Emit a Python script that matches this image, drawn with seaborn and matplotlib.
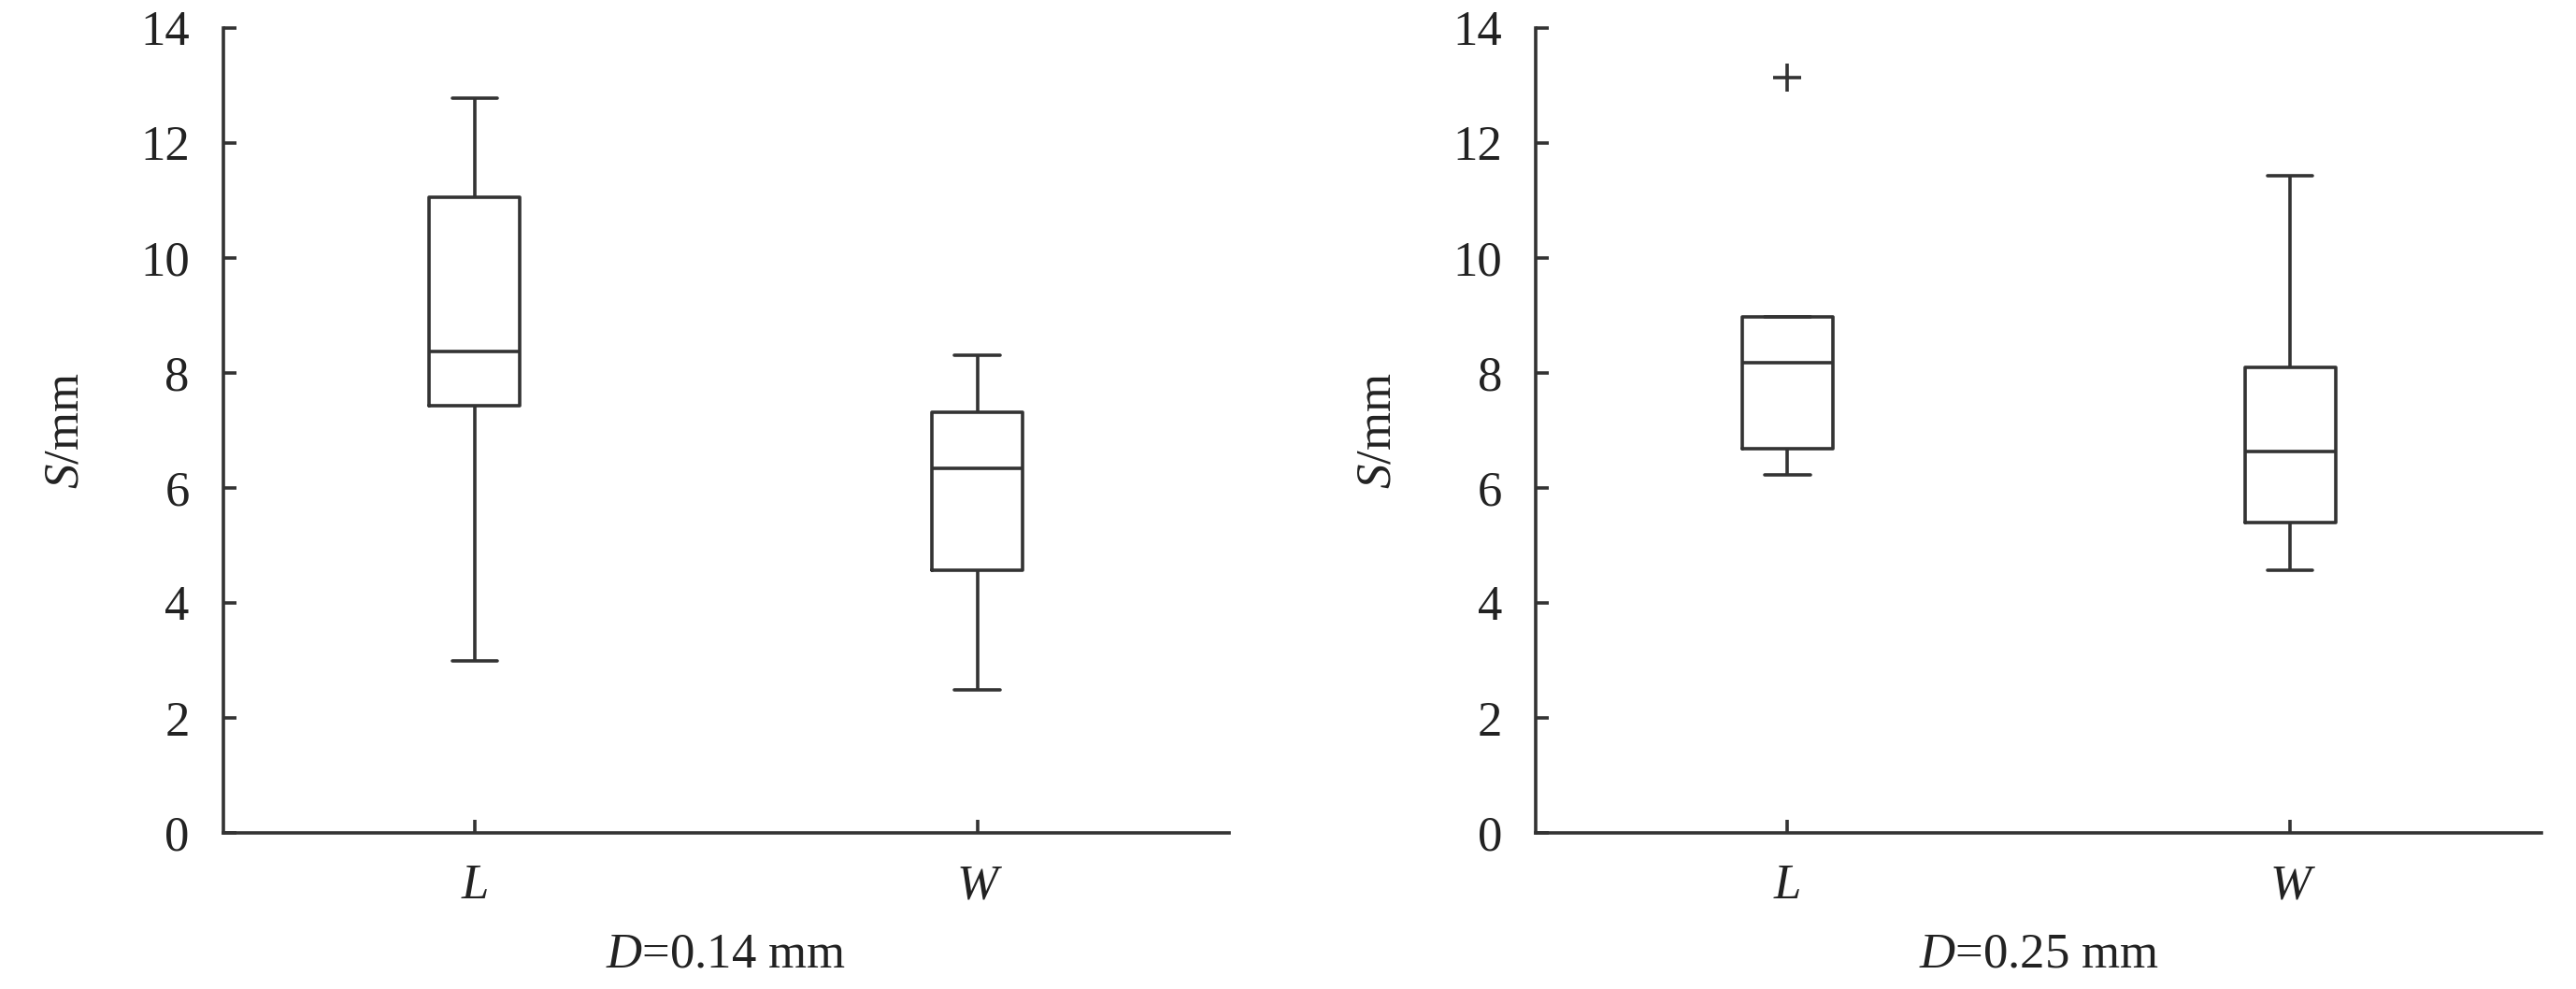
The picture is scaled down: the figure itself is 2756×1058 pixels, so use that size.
import matplotlib
matplotlib.use("Agg")
import matplotlib.pyplot as plt
import seaborn as sns
import pandas as pd

# Data (five-number sets; right-L includes one outlier)
left_L = [3.00, 7.43, 8.37, 11.06, 12.77]
left_W = [2.49, 4.57, 6.34, 7.31, 8.31]
right_L = [6.23, 6.69, 8.17, 8.97, 13.14]
right_W = [4.57, 5.40, 6.63, 8.09, 11.43]
categories = ["L", "W"]
panel_labels = ["$D$=0.14 mm", "$D$=0.25 mm"]
y_ticks = [0, 2, 4, 6, 8, 10, 12, 14]

sns.set_style("white")
plt.rcParams['font.family'] = ['Liberation Serif', 'DejaVu Serif']
plt.rcParams['mathtext.fontset'] = 'custom'
plt.rcParams['mathtext.rm'] = 'Liberation Serif'
plt.rcParams['mathtext.it'] = 'Liberation Serif:italic'

lc = "#333333"
lw = 1.3

fig = plt.figure(figsize=(13.78, 5.29), dpi=200)
axes = [fig.add_axes([0.0867, 0.1578, 0.3903, 0.814]),
        fig.add_axes([0.5963, 0.1578, 0.3903, 0.814])]

panels = [(left_L, left_W), (right_L, right_W)]
for ax, (dl, dw), lab in zip(axes, panels, panel_labels):
    df = pd.DataFrame({
        "cat": [categories[0]] * len(dl) + [categories[1]] * len(dw),
        "val": dl + dw,
    })
    sns.boxplot(data=df, x="cat", y="val", order=categories, ax=ax,
                fill=False, color=lc, linecolor=lc, linewidth=lw, width=0.18,
                whis=1.5,
                boxprops=dict(color=lc),
                whiskerprops=dict(color=lc),
                capprops=dict(color=lc),
                flierprops=dict(marker="+", markersize=11,
                                markeredgecolor=lc, markeredgewidth=lw),
                medianprops=dict(color=lc, linewidth=lw))
    ax.set_xlim(-0.5, 1.5)
    ax.set_ylim(0, 14)
    ax.set_yticks(y_ticks)
    ax.set_xticks([0, 1])
    ax.set_xticklabels(categories, fontstyle="italic")
    for s in ["top", "right"]:
        ax.spines[s].set_visible(False)
    for s in ["left", "bottom"]:
        ax.spines[s].set_color(lc)
        ax.spines[s].set_linewidth(lw)
    ax.tick_params(axis="y", direction="in", length=5, width=lw, color=lc,
                   labelsize=19, pad=13, labelcolor="#222222", left=True)
    ax.tick_params(axis="x", direction="in", length=5, width=lw, color=lc,
                   labelsize=19, pad=12, labelcolor="#222222", bottom=True)
    ax.set_xlabel(lab, fontsize=19, labelpad=9, color="#222222")
    ax.set_ylabel("$S$/mm", fontsize=19, labelpad=20, color="#222222")
    for art in ax.get_children():
        try:
            art.set_clip_on(False)
        except Exception:
            pass

fig.savefig("out.png", dpi=200, facecolor="white")
